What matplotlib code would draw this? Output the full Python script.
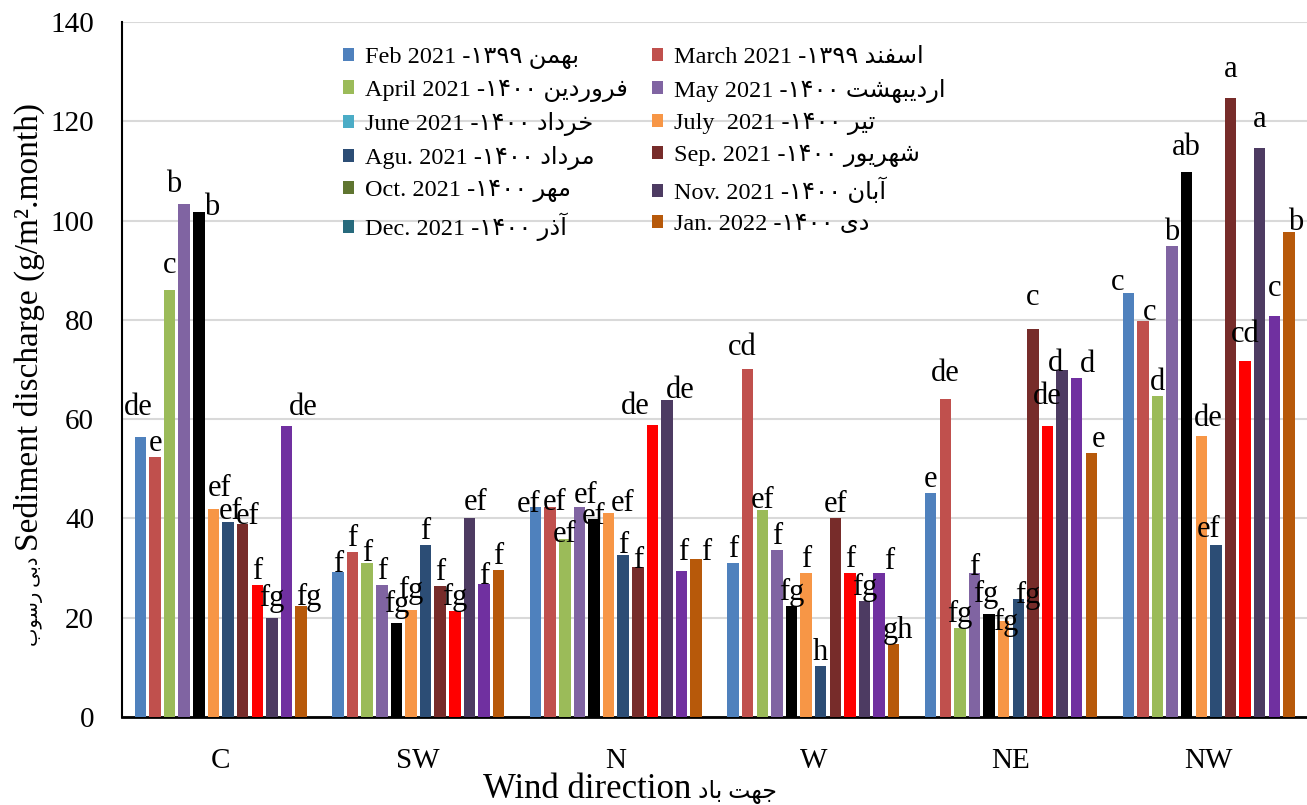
import matplotlib
matplotlib.use("Agg")
import matplotlib.pyplot as plt
from matplotlib.patches import Patch
import numpy as np

# Persian text is drawn letter by letter, so pick the joined glyph forms by hand
AR_FORMS = {
    'ا': ('\ufe8d', '\ufe8e', None, None),
    'آ': ('\ufe81', '\ufe82', None, None),
    'ب': ('\ufe8f', '\ufe90', '\ufe91', '\ufe92'),
    'ت': ('\ufe95', '\ufe96', '\ufe97', '\ufe98'),
    'ج': ('\ufe9d', '\ufe9e', '\ufe9f', '\ufea0'),
    'خ': ('\ufea5', '\ufea6', '\ufea7', '\ufea8'),
    'د': ('\ufea9', '\ufeaa', None, None),
    'ذ': ('\ufeab', '\ufeac', None, None),
    'ر': ('\ufead', '\ufeae', None, None),
    'س': ('\ufeb1', '\ufeb2', '\ufeb3', '\ufeb4'),
    'ش': ('\ufeb5', '\ufeb6', '\ufeb7', '\ufeb8'),
    'ف': ('\ufed1', '\ufed2', '\ufed3', '\ufed4'),
    'م': ('\ufee1', '\ufee2', '\ufee3', '\ufee4'),
    'ن': ('\ufee5', '\ufee6', '\ufee7', '\ufee8'),
    'ه': ('\ufee9', '\ufeea', '\ufeeb', '\ufeec'),
    'و': ('\ufeed', '\ufeee', None, None),
    'ی': ('\ufeef', '\ufef0', '\ufef3', '\ufef4'),
}


def fa(text):
    words = []
    for w in text.split(' '):
        g = []
        for i, ch in enumerate(w):
            f = AR_FORMS.get(ch)
            if f is None:
                g.append(ch)
                continue
            prev = AR_FORMS.get(w[i - 1]) if i > 0 else None
            nxt = AR_FORMS.get(w[i + 1]) if i + 1 < len(w) else None
            jp = prev is not None and prev[2] is not None
            jn = nxt is not None and f[2] is not None
            if jp and jn:
                g.append(f[3])
            elif jp:
                g.append(f[1])
            elif jn:
                g.append(f[2])
            else:
                g.append(f[0])
        words.append(''.join(reversed(g)))
    return ' '.join(reversed(words))


directions = ["C", "SW", "N", "W", "NE", "NW"]

months_en = ["Feb 2021", "March 2021", "April 2021", "May 2021", "June 2021", "July  2021",
             "Agu. 2021", "Sep. 2021", "Oct. 2021", "Nov. 2021", "Dec. 2021", "Jan. 2022"]
years_fa = ["۱۳۹۹", "۱۳۹۹", "۱۴۰۰", "۱۴۰۰", "۱۴۰۰", "۱۴۰۰",
            "۱۴۰۰", "۱۴۰۰", "۱۴۰۰", "۱۴۰۰", "۱۴۰۰", "۱۴۰۰"]
months_fa = ["بهمن", "اسفند", "فروردین", "اردیبهشت", "خرداد", "تیر",
             "مرداد", "شهریور", "مهر", "آبان", "آذر", "دی"]

# sediment discharge per month, one list per wind direction (C, SW, N, W, NE, NW)
sed_C = [56.4, 52.3, 86.1, 103.4, 101.8, 42.0, 39.2, 38.9, 26.5, 20.0, 58.7, 22.3]
sed_SW = [29.2, 33.3, 31.0, 26.5, 19.0, 21.6, 34.7, 26.4, 21.4, 40.1, 26.8, 29.6]
sed_N = [42.4, 42.4, 35.9, 42.4, 39.9, 41.0, 32.6, 30.2, 58.9, 63.8, 29.4, 31.9]
sed_W = [31.0, 70.1, 41.7, 33.7, 22.4, 29.0, 10.3, 40.0, 29.0, 23.3, 29.0, 14.7]
sed_NE = [45.2, 64.1, 17.9, 29.0, 20.8, 19.4, 23.7, 78.2, 58.7, 69.8, 68.2, 53.1]
sed_NW = [85.5, 79.7, 64.7, 94.9, 109.7, 56.7, 34.6, 124.7, 71.8, 114.7, 80.8, 97.6]

# Duncan grouping letters
let_C = ["de", "e", "c", "b", "b", "ef", "ef", "ef", "f", "fg", "de", "fg"]
let_SW = ["f", "f", "f", "f", "fg", "fg", "f", "f", "fg", "ef", "f", "f"]
let_N = ["ef", "ef", "ef", "ef", "ef", "ef", "f", "f", "de", "de", "f", "f"]
let_W = ["f", "cd", "ef", "f", "fg", "f", "h", "ef", "f", "fg", "f", "gh"]
let_NE = ["e", "de", "fg", "f", "fg", "fg", "fg", "c", "de", "d", "d", "e"]
let_NW = ["c", "c", "d", "b", "ab", "de", "ef", "a", "cd", "a", "c", "b"]

values = np.array([sed_C, sed_SW, sed_N, sed_W, sed_NE, sed_NW])
letters = [let_C, let_SW, let_N, let_W, let_NE, let_NW]

bar_colors = ["#4F81BD", "#C0504D", "#9BBB59", "#8064A2", "#000000", "#F79646",
              "#2C4D75", "#772C2A", "#FF0000", "#4D3B62", "#7030A0", "#B7590A"]
legend_colors = ["#4F81BD", "#C0504D", "#9BBB59", "#8064A2", "#4BACC6", "#F79646",
                 "#2C4D75", "#772C2A", "#5F7530", "#4D3B62", "#276A7C", "#B7590A"]

# hand nudges (pixels) for letters that sit off the default spot above their bar
nudge = {
    (0, 0): (-2, 16), (0, 2): (0, 11), (0, 3): (-11, 6), (0, 4): (13, -9), (0, 5): (6, 7),
    (0, 6): (3, -3), (0, 7): (5, -6), (0, 9): (0, 6), (0, 10): (17, 5), (0, 11): (8, -5),
    (1, 0): (0, -6), (1, 2): (0, -4), (1, 4): (0, 5), (1, 5): (0, 6), (1, 9): (6, 2),
    (1, 10): (0, -6),
    (2, 0): (-7, -11), (2, 1): (4, -9), (2, 2): (0, -9), (2, 3): (6, -2), (2, 4): (0, -11),
    (2, 5): (14, -4), (2, 6): (0, -4), (2, 7): (0, -7), (2, 8): (-17, 5), (2, 9): (13, -4),
    (2, 10): (2, 5), (2, 11): (10, -7),
    (3, 1): (-6, 8), (3, 2): (0, -4), (3, 10): (10, -2), (3, 11): (4, 0),
    (4, 1): (0, 12), (4, 3): (0, -8), (4, 4): (-3, 6), (4, 5): (2, -15), (4, 6): (9, -10),
    (4, 7): (0, 18), (4, 8): (0, 16), (4, 9): (-7, -7), (4, 10): (11, 0), (4, 11): (7, 0),
    (5, 0): (-11, -3), (5, 1): (7, -5), (5, 4): (0, 11), (5, 5): (7, 4), (5, 6): (-7, 2),
    (5, 7): (0, 15), (5, 8): (0, 13), (5, 9): (0, 15), (5, 10): (0, 14), (5, 11): (7, -4),
}

plt.rcParams['font.family'] = ['Liberation Serif', 'DejaVu Sans']

fig = plt.figure(figsize=(13.07, 8.05), dpi=100)
ax = fig.add_axes([0.0933, 0.1093, 0.907, 0.8634])

x = np.arange(len(directions))
pitch = 0.0739
width = 0.058
px = 72 / fig.dpi
for j in range(12):
    xs = x + (j - 5.5) * pitch
    ax.bar(xs, values[:, j], width=width, color=bar_colors[j], zorder=3)
    for i in range(len(directions)):
        dx, dy = nudge.get((i, j), (0, 0))
        ax.annotate(letters[i][j], xy=(xs[i], values[i, j]),
                    xytext=(dx * px, (6 + dy) * px), textcoords='offset points',
                    ha='center', va='baseline', fontsize=22, zorder=4)

ax.set_xlim(-0.5, 5.5)
ax.set_ylim(0, 140)
ax.set_yticks(np.arange(0, 141, 20))
ax.set_xticks(x)
ax.set_xticklabels(directions)
ax.tick_params(axis='both', length=0, labelsize=21)
ax.tick_params(axis='y', pad=20)
ax.tick_params(axis='x', pad=22)
ax.grid(axis='y', color='#D9D9D9', linewidth=1.5, zorder=0)
ax.set_axisbelow(True)
for s in ['top', 'right']:
    ax.spines[s].set_visible(False)
ax.spines['left'].set_linewidth(1.5)
ax.spines['bottom'].set_linewidth(2)

# axis titles: English part plus a smaller Persian part beside it
xl = ax.set_xlabel("Wind direction", fontsize=25)
ax.xaxis.set_label_coords(0.392, -0.081)
ax.annotate(fa("جهت باد"), xy=(1, 0), xycoords=xl, xytext=(5, 1.5),
            textcoords='offset points', ha='left', va='bottom', fontsize=17)

yl = ax.set_ylabel("Sediment discharge (g/m².month)", fontsize=24)
ax.yaxis.set_label_coords(-0.065, 0.561)
ax.annotate(fa("دبی رسوب"), xy=(1, 0), xycoords=yl, xytext=(-1.5, -4),
            textcoords='offset points', ha='right', va='bottom', fontsize=14,
            rotation=90, rotation_mode='anchor')

labels = [f"{months_en[k]} -{years_fa[k]} {fa(months_fa[k])}" for k in range(12)]
handles = [Patch(facecolor=c) for c in legend_colors]
order = list(range(0, 12, 2)) + list(range(1, 12, 2))
ax.legend([handles[k] for k in order], [labels[k] for k in order], ncol=2,
          loc='upper left', bbox_to_anchor=(0.176, 0.981), frameon=False,
          fontsize=17.5, handlelength=0.45, handleheight=0.45, handletextpad=0.45,
          labelspacing=0.42, columnspacing=1.0, borderpad=0)

fig.savefig("out.png", dpi=100)
